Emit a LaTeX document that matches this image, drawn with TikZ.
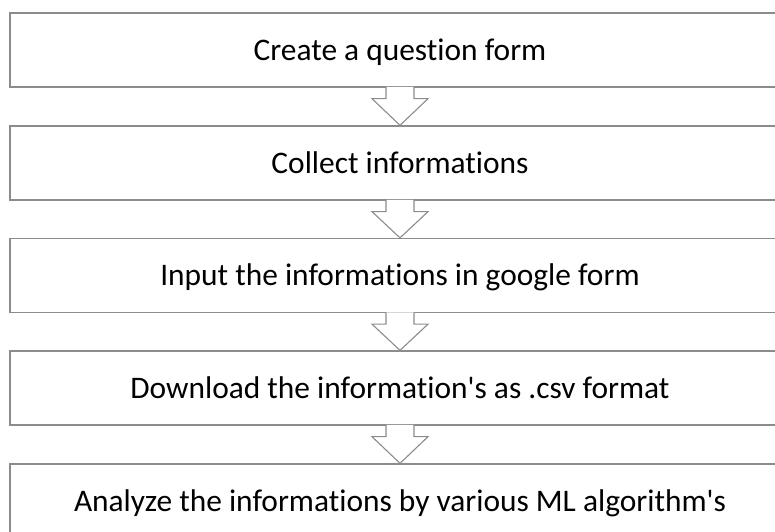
\documentclass[tikz,border=0pt]{standalone}
\usepackage{fontspec}
\setmainfont{Carlito}[Ligatures={NoCommon}]
\usetikzlibrary{calc}
\definecolor{lineg}{RGB}{140,140,140}
\tikzset{
  stepbox/.style={draw=lineg, line width=1.3pt, fill=white, minimum width=780pt, minimum height=74pt,
    inner sep=0pt, text height=20.2pt, text depth=0pt, font=\fontsize{31.4}{36}\selectfont},
  flowarrow/.style={draw=lineg, line width=1.1pt, fill=white, line join=miter}
}
\newcommand{\flowarr}[2]{%
  \path[flowarrow] ($(#1.south)+(-14,-0.8)$) -- ($(#1.south)+(-14,11)$) -- ($(#1.south)+(-28,11)$)
    -- (#2.north) -- ($(#1.south)+(28,11)$) -- ($(#1.south)+(14,11)$) -- ($(#1.south)+(14,-0.8)$);}
\begin{document}
\begin{tikzpicture}[x=1pt,y=-1pt]
\useasboundingbox (0,0) rectangle (775,531);
\begin{scope}
\clip (0,0) rectangle (775,531);
\fill[white] (0,0) rectangle (775,531);
\node[stepbox] (b1) at (400,50) {Create a question form};
\node[stepbox] (b2) at (400,163) {Collect informations};
\node[stepbox] (b3) at (400,275.5) {Input the informations in google form};
\node[stepbox] (b4) at (400,388) {Download the information\textquotesingle s as .csv format};
\node[stepbox] (b5) at (400,501) {Analyze the informations by various ML algorithm\textquotesingle s};
\flowarr{b1}{b2}
\flowarr{b2}{b3}
\flowarr{b3}{b4}
\flowarr{b4}{b5}
\end{scope}
\end{tikzpicture}
\end{document}
